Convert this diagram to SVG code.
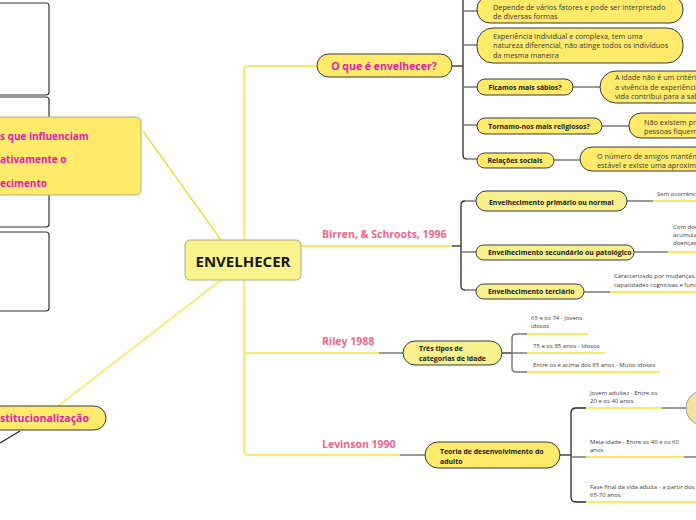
<svg xmlns="http://www.w3.org/2000/svg" width="696" height="520" viewBox="0 0 696 520">
<style>
  text { font-family: "Open Sans", "Noto Sans", "Liberation Sans", sans-serif; }
  .trunk { stroke: #fce96a; stroke-width: 2; fill: none; }
  .ylw { stroke: #fde95e; stroke-width: 2; fill: none; }
  .dark { stroke: #2a2a2a; stroke-width: 1.3; fill: none; }
  .gray { stroke: #7a7a7a; stroke-width: 1.5; fill: none; }
  .pill { fill: #ffea6a; stroke: #3a3a3a; stroke-width: 1; }
  .pill2 { fill: #f8f08c; stroke: #3a3a3a; stroke-width: 1; }
  .box { fill: none; stroke: #333; stroke-width: 1.2; }
  .mag { fill: #e21cb4; font-weight: bold; }
  .pink { fill: #f0648e; font-weight: bold; font-size: 10.5px; }
  .lbl { fill: #1a1a1a; font-weight: bold; font-size: 6.9px; }
  .desc { fill: #3a3a3a; font-size: 7.3px; }
  .sm { fill: #3a3a3a; font-size: 6px; }
</style>

<g id="connectors">
  <line x1="143" y1="131" x2="221" y2="240" stroke="#e8d400" stroke-width="1.2"/>
  <line x1="221" y1="280" x2="58" y2="406" stroke="#fce96a" stroke-width="1.6"/>
  <line x1="20" y1="431" x2="0" y2="443" stroke="#2a2a2a" stroke-width="1.2"/>
  <path class="trunk" d="M317,66 H249 Q244,66 244,71 V450 Q244,455 249,455 H400"/>
  <path class="trunk" d="M244,353 H379"/>
  <path class="trunk" d="M301,246 H452"/>
  <path class="dark" d="M452,66 H463"/>
  <path class="dark" d="M463,-5 V155 Q463,159 467,159"/>
  <path class="gray" d="M464,11 H477 M464,45 H477 M464,87 H477 M464,125 H477 M467,159 H477"/>
  <path class="gray" d="M573,87 H600 M602,126 H629 M554,160 H580"/>
  <path class="dark" d="M452,246 H461"/>
  <path class="dark" d="M465,201 Q461,201 461,205 V286 Q461,290 465,290"/>
  <path class="gray" d="M465,201 H476 M461,252 H476 M465,290 H476"/>
  <path class="gray" d="M627,201 H653 M634,252 H668 M584,292 H610"/>
  <path class="ylw" d="M653,201 H696 M668,252 H696 M610,292 H696"/>
  <path class="gray" d="M379,353 H403"/>
  <path class="dark" d="M502,353 H512"/>
  <path class="gray" d="M516,334 Q512,334 512,338 V368 Q512,372 516,372 H527 M512,353 H527 M516,334 H527"/>
  <path class="ylw" d="M527,334 H588 M527,353 H605 M527,372 H660"/>
  <path class="gray" d="M400,455 H425"/>
  <path class="dark" d="M560,455 H571"/>
  <path class="dark" d="M576,408 Q571,408 571,413 V497 Q571,502 576,502 H586 M576,408 H586"/>
  <path class="gray" d="M571,457 H586"/>
  <path class="ylw" d="M586,408 H662 M586,457 H684 M586,502 H696"/>
  <path class="gray" d="M662,408 H686 M684,457 H696"/>
</g>

<g id="left-boxes">
  <rect class="box" x="-20" y="3" width="69" height="92" rx="3"/>
  <rect class="box" x="-20" y="97" width="69" height="130" rx="3"/>
  <rect class="box" x="-20" y="232" width="69" height="79" rx="3"/>
</g>

<g id="node-fatores">
  <rect x="-10" y="117" width="151" height="78" rx="5" fill="#ffea6a" stroke="#b2ab86" stroke-width="1"/>
  <text class="mag" x="0" y="140" font-size="10">s que influenciam</text>
  <text class="mag" x="0" y="163" font-size="10">ativamente o</text>
  <text class="mag" x="0" y="187" font-size="10">ecimento</text>
</g>

<g id="node-institucionalizacao">
  <rect class="pill" x="-30" y="406" width="136" height="24" rx="12"/>
  <text class="mag" x="0" y="422" font-size="10.5">stitucionalização</text>
</g>

<g id="node-center">
  <rect x="185" y="240" width="116" height="40" rx="5" fill="#f9f38d" stroke="#b0aa84" stroke-width="1"/>
  <text x="243" y="267" text-anchor="middle" font-size="15" font-weight="bold" fill="#1a1a1a">ENVELHECER</text>
</g>

<g id="node-oque">
  <rect class="pill" x="317" y="54" width="135" height="23" rx="11.5"/>
  <text class="mag" x="384" y="70" text-anchor="middle" font-size="10.5">O que é envelhecer?</text>
</g>
<g id="node-depende">
  <rect class="pill" x="477" y="-4" width="206" height="27" rx="13"/>
  <text class="desc" x="493" y="10">Depende de vários fatores e pode ser interpretado</text>
  <text class="desc" x="493" y="19">de diversas formas</text>
</g>
<g id="node-experiencia">
  <rect class="pill" x="477" y="28" width="206" height="35" rx="16"/>
  <text class="desc" x="493" y="39">Experiência Individual e complexa, tem uma</text>
  <text class="desc" x="493" y="48">natureza diferencial, não atinge todos os indivíduos</text>
  <text class="desc" x="493" y="58">da mesma maneira</text>
</g>
<g id="node-sabios">
  <rect class="pill" x="477" y="79" width="96" height="16" rx="8"/>
  <text class="lbl" x="525" y="90" text-anchor="middle">Ficamos mais sábios?</text>
</g>
<g id="node-idade">
  <rect class="pill" x="600" y="71" width="120" height="32" rx="16"/>
  <text class="desc" x="615" y="80">A idade não é um critério</text>
  <text class="desc" x="615" y="90">a vivência de experiência</text>
  <text class="desc" x="615" y="99">vida contribui para a sab</text>
</g>
<g id="node-religiosos">
  <rect class="pill" x="477" y="118" width="125" height="16" rx="8"/>
  <text class="lbl" x="539" y="129" text-anchor="middle">Tornamo-nos mais religiosos?</text>
</g>
<g id="node-naoexistem">
  <rect class="pill" x="629" y="113" width="100" height="25" rx="12"/>
  <text class="desc" x="644" y="125">Não existem pro</text>
  <text class="desc" x="644" y="134">pessoas fiquem</text>
</g>
<g id="node-relacoes">
  <rect class="pill" x="477" y="153" width="77" height="15" rx="7.5"/>
  <text class="lbl" x="515" y="163" text-anchor="middle">Relações sociais</text>
</g>
<g id="node-amigos">
  <rect class="pill" x="580" y="147" width="140" height="24" rx="12"/>
  <text class="desc" x="597" y="159">O número de amigos mantém</text>
  <text class="desc" x="597" y="168">estável e existe uma aproxima</text>
</g>

<g id="node-birren">
  <text class="pink" x="322" y="238">Birren, &amp; Schroots, 1996</text>
</g>
<g id="node-primario">
  <rect class="pill2" x="476" y="191" width="151" height="20" rx="10"/>
  <text class="lbl" x="489" y="205">Envelhecimento primário ou normal</text>
</g>
<g id="node-semocorr">
  <text class="sm" x="657" y="196">Sem ocorrênc</text>
</g>
<g id="node-secundario">
  <rect class="pill2" x="476" y="245" width="158" height="15" rx="7.5"/>
  <text class="lbl" x="488" y="255">Envelhecimento secundário ou patológico</text>
</g>
<g id="node-comdoe">
  <text class="sm" x="673" y="229">Com doe</text>
  <text class="sm" x="673" y="237">acumula</text>
  <text class="sm" x="673" y="245">doenças</text>
</g>
<g id="node-terciario">
  <rect class="pill2" x="476" y="284" width="108" height="15" rx="7.5"/>
  <text class="lbl" x="488" y="294">Envelhecimento terciário</text>
</g>
<g id="node-caracterizado">
  <text class="sm" x="614" y="278">Caracterizado por mudanças</text>
  <text class="sm" x="614" y="287">capacidades cognitivas e func</text>
</g>

<g id="node-riley">
  <text class="pink" x="322" y="345">Riley 1988</text>
</g>
<g id="node-tres">
  <rect class="pill2" x="403" y="341" width="99" height="24" rx="12"/>
  <text class="lbl" x="419" y="351">Três tipos de</text>
  <text class="lbl" x="419" y="361">categorias de idade</text>
</g>
<g id="node-jovens">
  <text class="sm" x="531" y="320">65 e os 74 - Jovens</text>
  <text class="sm" x="531" y="328">idosos</text>
</g>
<g id="node-idosos">
  <text class="sm" x="533" y="348">75 e os 85 anos - Idosos</text>
</g>
<g id="node-muitoidosos">
  <text class="sm" x="533" y="367">Entre os e acima dos 85 anos - Muito idosos</text>
</g>

<g id="node-levinson">
  <text class="pink" x="322" y="448">Levinson 1990</text>
</g>
<g id="node-teoria">
  <rect class="pill" x="425" y="442" width="135" height="26" rx="13"/>
  <text class="lbl" x="440" y="454">Teoria de desenvolvimento do</text>
  <text class="lbl" x="440" y="464">adulto</text>
</g>
<g id="node-jovem">
  <text class="sm" x="590" y="395">Jovem adultez - Entre os</text>
  <text class="sm" x="590" y="403">20 e os 40 anos</text>
</g>
<g id="node-circle">
  <ellipse cx="706" cy="408" rx="20" ry="18" fill="#f3e49a" stroke="#9a9a9a" stroke-width="1"/>
</g>
<g id="node-meia">
  <text class="sm" x="590" y="444">Meia-idade - Entre os 40 e os 60</text>
  <text class="sm" x="590" y="452">anos</text>
</g>
<g id="node-fase">
  <text class="sm" x="590" y="489">Fase final da vida adulta - a partir dos</text>
  <text class="sm" x="590" y="497">65-70 anos</text>
</g>
</svg>
